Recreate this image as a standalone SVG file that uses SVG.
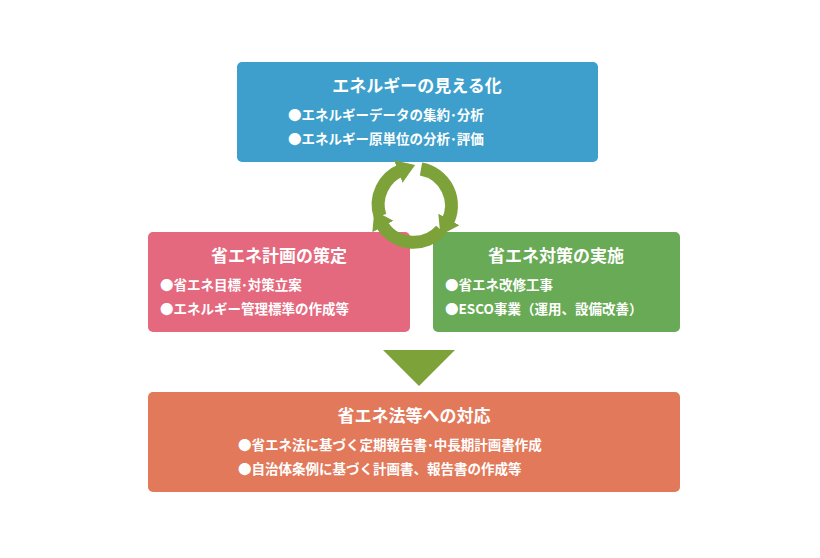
<svg xmlns="http://www.w3.org/2000/svg" width="820" height="558" viewBox="0 0 820 558">
<style>
.t{font-family:"Noto Sans CJK JP","Noto Sans",sans-serif;fill:#fff;font-weight:bold}
.h{font-size:17px}
.b{font-size:13.5px}
.arc{fill:none;stroke:#7da23a;stroke-width:13}
</style>
<defs>
<marker id="ah" markerUnits="userSpaceOnUse" markerWidth="30" markerHeight="30" refX="4" refY="12" orient="auto">
<polygon points="0,0 18,12 0,24" fill="#7da23a"/>
</marker>
</defs>
<rect width="820" height="558" fill="#fff"/>
<g id="n1"><rect x="237" y="62" width="361" height="100" rx="5" fill="#3e9fcc"/>
<text class="t h" x="417" y="92" text-anchor="middle">エネルギーの見える化</text>
<text class="t b" x="288" y="120">●エネルギーデータの集約･分析</text>
<text class="t b" x="288" y="144">●エネルギー原単位の分析･評価</text></g>
<g id="n2"><rect x="148" y="232" width="262" height="100" rx="5" fill="#e4697e"/>
<text class="t h" x="279" y="262" text-anchor="middle">省エネ計画の策定</text>
<text class="t b" x="160" y="290">●省エネ目標･対策立案</text>
<text class="t b" x="160" y="314">●エネルギー管理標準の作成等</text></g>
<g id="n3"><rect x="433" y="232" width="247" height="100" rx="5" fill="#68aa55"/>
<text class="t h" x="556" y="262" text-anchor="middle">省エネ対策の実施</text>
<text class="t b" x="445" y="290">●省エネ改修工事</text>
<text class="t b" x="445" y="314">●ESCO事業（運用、設備改善）</text></g>
<g id="n4"><rect x="148" y="392" width="532" height="100" rx="5" fill="#e2795a"/>
<text class="t h" x="414" y="422" text-anchor="middle">省エネ法等への対応</text>
<text class="t b" x="238" y="450">●省エネ法に基づく定期報告書･中長期計画書作成</text>
<text class="t b" x="238" y="474">●自治体条例に基づく計画書、報告書の作成等</text></g>
<g id="connectors">
<path class="arc" d="M421,169 A37,37 0 0 1 447,223" marker-end="url(#ah)"/>
<path class="arc" d="M441,230 A37,37 0 0 1 381,223" marker-end="url(#ah)"/>
<path class="arc" d="M380,216 A37,37 0 0 1 402,170" marker-end="url(#ah)"/>
<polygon points="383,350 455,350 419,386" fill="#7da23a"/>
</g>
</svg>
